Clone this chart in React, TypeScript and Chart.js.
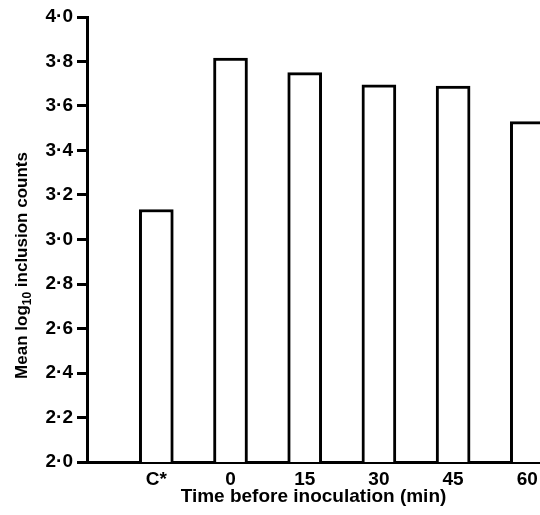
import React, { useEffect, useRef } from "react";
import { Chart, registerables } from "chart.js";

Chart.register(...registerables);

// ---- data ----
const categories = ["C*", "0", "15", "30", "45", "60"];
const meanLogCounts = [3.135, 3.815, 3.75, 3.695, 3.69, 3.53];
const yTickValues = [2.0, 2.2, 2.4, 2.6, 2.8, 3.0, 3.2, 3.4, 3.6, 3.8, 4.0];
const xTitle = "Time before inoculation (min)";
const yTitleMain = "Mean log";
const yTitleSub = "10";
const yTitleRest = " inclusion counts";

// axis window (index units) so the frame matches the figure
const X_MIN = -0.934;
const X_MAX = 5.171;

const FONT = "'Liberation Sans', Arial, sans-serif";

export default function App() {
  const ref = useRef<HTMLCanvasElement | null>(null);

  useEffect(() => {
    const canvas = ref.current;
    if (!canvas) return;

    const yTitlePlugin = {
      id: "yTitleSub",
      afterDraw(chart: any) {
        const ctx = chart.ctx as CanvasRenderingContext2D;
        const area = chart.chartArea;
        const main = `bold 17px ${FONT}`;
        const sub = `bold 12px ${FONT}`;
        ctx.save();
        ctx.font = main;
        const w1 = ctx.measureText(yTitleMain).width;
        const w3 = ctx.measureText(yTitleRest).width;
        ctx.font = sub;
        const w2 = ctx.measureText(yTitleSub).width;
        const total = w1 + w2 + w3;
        const cx = 27;
        const cy = (area.top + area.bottom) / 2 + 26;
        ctx.translate(cx, cy);
        ctx.rotate(-Math.PI / 2);
        ctx.fillStyle = "#000";
        ctx.textAlign = "left";
        ctx.textBaseline = "alphabetic";
        let x = -total / 2;
        ctx.font = main;
        ctx.fillText(yTitleMain, x, 0);
        x += w1;
        ctx.font = sub;
        ctx.fillText(yTitleSub, x, 4);
        x += w2;
        ctx.font = main;
        ctx.fillText(yTitleRest, x, 0);
        ctx.restore();
      },
    };

    const chart = new Chart(canvas, {
      type: "bar",
      data: {
        datasets: [
          {
            data: meanLogCounts.map((v, i) => ({ x: i, y: v })),
            backgroundColor: "#ffffff",
            borderColor: "#000000",
            borderWidth: 3,
            barThickness: 34,
          },
        ],
      },
      options: {
        responsive: false,
        animation: false,
        devicePixelRatio: 1,
        layout: { padding: { top: 17, right: 0, bottom: 0, left: 0 } },
        plugins: {
          legend: { display: false },
          tooltip: { enabled: false },
          title: { display: false },
        },
        scales: {
          x: {
            type: "linear",
            offset: false,
            min: X_MIN,
            max: X_MAX,
            afterBuildTicks: (axis: any) => {
              axis.ticks = categories.map((_, i) => ({ value: i }));
            },
            afterFit: (scale: any) => {
              scale.height = 53;
              scale.paddingLeft = 0;
              scale.paddingRight = 0;
            },
            grid: { display: false, drawTicks: false, offset: false },
            border: { display: true, color: "#000", width: 3 },
            ticks: {
              color: "#000",
              font: { family: FONT, size: 19, weight: "bold" },
              padding: 6,
              maxRotation: 0,
              autoSkip: false,
              callback: (v: any) => {
                const i = Math.round(Number(v));
                return categories[i] ?? "";
              },
            },
            title: {
              display: true,
              text: xTitle,
              color: "#000",
              font: { family: FONT, size: 19, weight: "bold" },
              padding: { top: 0, bottom: 7 },
            },
          },
          y: {
            type: "linear",
            min: 2.0,
            max: 4.0,
            afterBuildTicks: (axis: any) => {
              axis.ticks = yTickValues.map((v) => ({ value: v }));
            },
            afterFit: (scale: any) => {
              scale.width = 87;
            },
            grid: {
              display: true,
              drawOnChartArea: false,
              drawTicks: true,
              tickLength: 10,
              tickWidth: 3,
              tickColor: "#000",
            },
            border: { display: true, color: "#000", width: 3 },
            ticks: {
              color: "#000",
              font: { family: FONT, size: 19, weight: "bold" },
              padding: 4,
              callback: (v: any) => Number(v).toFixed(1).replace(".", "\u00B7"),
            },
          },
        },
      },
      plugins: [yTitlePlugin],
    } as any);

    return () => chart.destroy();
  }, []);

  return (
    <div
      style={{
        position: "fixed",
        left: 0,
        top: 0,
        width: 540,
        height: 515,
        overflow: "hidden",
        background: "#fff",
      }}
    >
      <canvas ref={ref} width={540} height={515} style={{ width: 540, height: 515, display: "block" }} />
    </div>
  );
}
